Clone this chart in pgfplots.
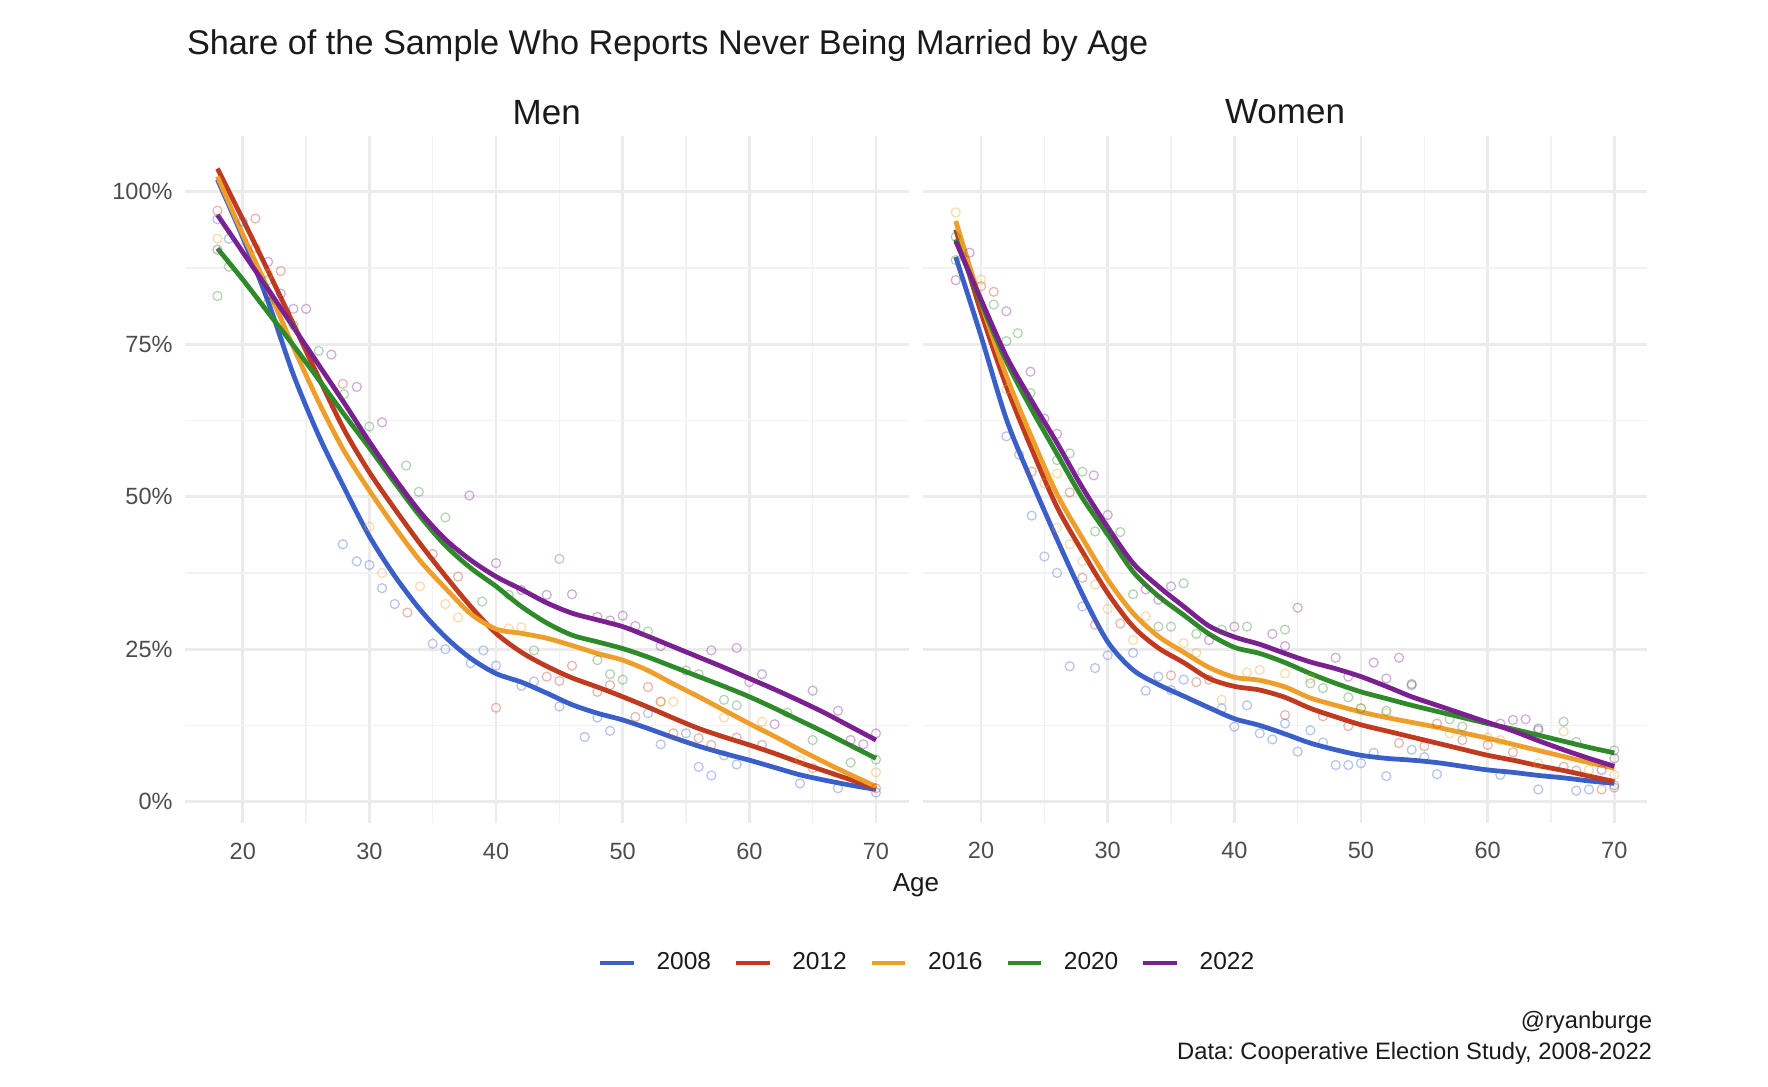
\documentclass[border=0pt]{standalone}
\usepackage{fontspec}
\setmainfont{Liberation Sans}
\usepackage{pgfplots}
\pgfplotsset{compat=1.18}
\frenchspacing
\definecolor{c2008}{HTML}{3A5FC9}
\definecolor{c2012}{HTML}{BF3A1F}
\definecolor{c2016}{HTML}{EE9E2A}
\definecolor{c2020}{HTML}{2F8A2A}
\definecolor{c2022}{HTML}{7B2090}
\definecolor{gridmaj}{HTML}{EBEBEB}
\definecolor{gridmin}{HTML}{F2F2F2}
\definecolor{tickgray}{HTML}{4D4D4D}
\definecolor{txt}{HTML}{1A1A1A}
\pgfplotsset{
  every axis title shift=0pt,
  panel/.style={
    scale only axis, width=289.76pt, height=274.96pt,
    xmin=15.4, xmax=72.6, ymin=-3.5, ymax=109.2,
    xtick={20,30,40,50,60,70}, minor xtick={25,35,45,55,65},
    ytick={0,25,50,75,100}, minor ytick={12.5,37.5,62.5,87.5},
    grid=both,
    major grid style={color=gridmaj, line width=1.08pt},
    minor grid style={color=gridmin, line width=0.55pt},
    axis line style={draw=none},
    major tick length=0pt, minor tick length=0pt,
    tick style={draw=none},
    /pgf/number format/assume math mode=true,
    xticklabel style={anchor=base, yshift=-14.4pt, inner sep=0pt,
      font=\fontsize{9.4pt}{11pt}\selectfont, text=tickgray},
    yticklabel style={anchor=east, xshift=-4.6pt, inner sep=0pt,
      font=\fontsize{9.4pt}{11pt}\selectfont, text=tickgray},
    title style={at={(0.5,1)}, anchor=base, yshift=4.64pt, inner sep=0pt,
      font=\fontsize{14pt}{16pt}\selectfont, text=txt},
  },
  pts/.style={only marks, mark=o, mark size=1.8pt, #1,
    mark options={line width=0.5pt, draw opacity=0.36}, forget plot},
  crv/.style={#1, line width=1.9pt, smooth, tension=0.5, mark=none},
}
\begin{document}
\begin{tikzpicture}
\useasboundingbox (0,0) rectangle (707.2pt,434.4pt);
\fill[white] (0,0) rectangle (707.2pt,434.4pt);

% ---------------- Men ----------------
\begin{axis}[panel, at={(73.8pt,105.2pt)}, anchor=south west,
  title={Men},
  yticklabels={0\%,25\%,50\%,75\%,100\%},
  legend columns=5,
  legend style={at={(1.0236,-0.2037)}, anchor=center, draw=none, fill=none,
    font=\fontsize{9.8pt}{11pt}\selectfont, text=txt,
    /tikz/every odd column/.append style={column sep=8.2pt},
    /tikz/every even column/.append style={column sep=9.0pt},
    nodes={inner sep=0pt}},
  legend image code/.code={\draw[#1, line width=1.9pt] (0pt,0pt) -- (13.4pt,0pt);},
]
\addplot[pts=c2008] coordinates {(18,95.5)(18.9,92.3)(20,95.1)(27.9,42.2)(29,39.4)(30,38.8)(31,35)(32,32.4)(35,25.9)(36,25)(38,22.7)(39,24.8)(40,22.3)(42,19)(43,19.7)(45,15.6)(47,10.6)(48,13.8)(49,11.6)(52,14.5)(53,9.4)(55,11.2)(56,5.7)(57,4.3)(58,7.6)(59,6.1)(64,3)(67,2.2)(70,1.5)};
\addplot[pts=c2012] coordinates {(18,96.9)(21,95.6)(21,90.8)(23,87)(27.9,68.5)(33,31)(35,40.6)(37,36.9)(40,15.4)(44,20.5)(45,19.8)(46,22.3)(48,18)(49,19.1)(51,13.9)(52,18.8)(53,16.4)(54,11.2)(56,10.4)(57,9.3)(59,10.5)(61,9.3)(65,5.5)(70,2.2)};
\addplot[pts=c2016] coordinates {(18,92.3)(22,86.5)(30,45.1)(31,37.5)(34,35.3)(36,32.4)(37,30.2)(41,28.4)(42,28.6)(53,16.4)(54,16.4)(58,13.8)(61,13.1)(64,6.8)(70,4.8)};
\addplot[pts=c2020] coordinates {(18,82.9)(18.9,87.7)(22,85.5)(22,81.8)(24,78.1)(26,73.9)(28,66.8)(30,61.5)(32.9,55.1)(33.9,50.8)(36,46.6)(38.9,32.8)(41,33.9)(43,24.8)(45,39.8)(48,23.2)(49,20.9)(50,20)(52,27.9)(55,21.5)(56,20.9)(58,16.7)(59,15.8)(63,14.6)(65,10.1)(68,6.4)(70,6.9)};
\addplot[pts=c2022] coordinates {(18,90.5)(22,88.5)(22,83.2)(23,83.3)(24,80.8)(25,80.8)(27,73.3)(29,68)(31,62.2)(37.9,50.2)(40,39.1)(42,34.7)(44,33.9)(46,34)(48,30.3)(49,29.7)(50,30.5)(51,28.8)(53,25.5)(57,24.8)(59,25.2)(60,19.6)(61,20.9)(62,12.7)(65,18.2)(67,14.9)(68,10.1)(69,9.4)(70,11.2)};
\addplot[crv=c2008] coordinates {(18,102)(20,92.5)(22,82)(24,70)(26,60)(28,51.5)(30,43.5)(32,37)(34,31.5)(36,27)(38,23.5)(40,21)(42,19.6)(44,17.8)(46,15.9)(48,14.5)(50,13.4)(52,12)(54,10.5)(56,9.1)(58,7.9)(60,6.8)(62,5.6)(64,4.4)(66,3.5)(68,2.7)(70,2.0)};
\addplot[crv=c2012] coordinates {(18,103.8)(20,95.5)(22,87)(24,78.3)(26,69.5)(28,61)(30,54)(32,48)(34,42.3)(36,37)(38,32)(40,27.6)(42,24.5)(44,22.2)(46,20.3)(48,18.8)(50,17.2)(52,15.5)(54,13.7)(56,12)(58,10.6)(60,9.3)(62,7.9)(64,6.4)(66,5)(68,3.6)(70,2.2)};
\addplot[crv=c2016] coordinates {(18,102.5)(20,93)(22,84)(24,74.5)(26,65.5)(28,57.5)(30,51)(32,45)(34,39.5)(36,35)(38,30.8)(40,28.3)(42,27.6)(44,26.8)(46,25.6)(48,24.3)(50,23.2)(52,21.5)(54,19.3)(56,17.2)(58,15)(60,12.8)(62,10.7)(64,8.5)(66,6.4)(68,4.4)(70,2.5)};
\addplot[crv=c2020] coordinates {(18,90.7)(20,85.6)(22,80.2)(24,74.8)(26,69.2)(28,63.5)(30,58)(32,52.3)(34,46.8)(36,42)(38,38.3)(40,35.3)(42,32)(44,29.3)(46,27.3)(48,26.2)(50,25.1)(52,23.7)(54,22.1)(56,20.5)(58,18.9)(60,17.2)(62,15.3)(64,13.3)(66,11.3)(68,9.2)(70,7.1)};
\addplot[crv=c2022] coordinates {(18,96.2)(20,90.1)(22,84)(24,77.8)(26,71.6)(28,65.4)(30,59)(32,53)(34,47.5)(36,43)(38,39.6)(40,36.9)(42,34.8)(44,32.6)(46,30.9)(48,29.8)(50,28.7)(52,27.1)(54,25.4)(56,23.7)(58,22)(60,20.2)(62,18.4)(64,16.5)(66,14.5)(68,12.3)(70,10.1)};
\legend{2008,2012,2016,2020,2022}
\end{axis}

% ---------------- Women ----------------
\begin{axis}[panel, at={(369.12pt,105.2pt)}, anchor=south west,
  title={Women},
  yticklabels={},
]
\addplot[pts=c2008] coordinates {(22,59.9)(23,56.9)(24,46.9)(25,40.2)(26,37.5)(27,22.2)(28,32)(29,21.9)(30,24)(32,24.4)(33,18.2)(34,20.5)(35,18.3)(36,20)(39,15.3)(40,12.3)(41,15.8)(42,11.2)(43,10.2)(44,12.8)(45,8.2)(46,11.7)(47,9.7)(48,6)(49,6)(50,6.3)(51,8)(52,4.2)(54,8.5)(55,7.3)(56,4.5)(61,4.4)(64,2)(67,1.8)(68,2)(70,2.7)};
\addplot[pts=c2012] coordinates {(20,84.5)(21,83.6)(24,54.1)(27,50.7)(28,36.7)(29,29)(31,29.2)(35,20.7)(37,19.6)(38,20)(44,14.2)(47,14)(49,12.4)(53,9.6)(55,9.1)(56,12.8)(58,10.1)(60,9.3)(62,8.1)(66,5.7)(67,5.1)(69,2)(70,2.3)};
\addplot[pts=c2016] coordinates {(18,96.6)(20,85.6)(22,67.6)(25,52.2)(26,53.8)(26,44.9)(27,42.2)(28,39.4)(29,35.6)(30,31.6)(32,26.5)(33,30.4)(36,26)(37,24.4)(39,16.7)(41,21.2)(42,21.6)(44,21)(46,20.2)(50,15.3)(52,14.5)(57,11.2)(60,10.5)(61,10.1)(64,6.3)(66,11.5)(68,5.2)(70,4.4)};
\addplot[pts=c2020] coordinates {(18,92.6)(18,88.8)(21,81.5)(22,75.5)(22.9,76.8)(23.9,67)(26,56)(27,57.1)(28,54.1)(29,44.3)(30,44.3)(31,44.2)(32,34)(34,28.7)(35,28.7)(36,35.8)(37,27.5)(39,28.2)(41,28.7)(44,28.2)(46,19.4)(47,18.6)(49,17.1)(50,15.3)(52,14.9)(54,19.3)(57,13.5)(58,12.3)(64,11.7)(66,13.1)(67,9.8)(70,8.4)};
\addplot[pts=c2022] coordinates {(18,85.5)(19.1,90)(22,80.4)(23.9,70.5)(25,62.8)(26,60.3)(28.9,53.5)(30,47)(33,34.8)(34,33.1)(35,35.3)(38,26.5)(40,28.7)(43,27.5)(44,25.5)(45,31.8)(48,23.6)(49,20.5)(51,22.8)(52,20.2)(53,23.6)(54,19.1)(61,12.8)(62,13.4)(63,13.5)(64,12)(69,5.2)(70,7.1)};
\addplot[crv=c2008] coordinates {(18,89.3)(20,76.3)(22,62.7)(24,52.5)(26,43)(28,34)(30,26.2)(32,21.6)(34,19.2)(36,17.3)(38,15.4)(40,13.6)(42,12.5)(44,11.1)(46,9.6)(48,8.5)(50,7.6)(52,7.1)(54,6.8)(56,6.4)(58,5.8)(60,5.2)(62,4.8)(64,4.3)(66,3.9)(68,3.4)(70,3.0)};
\addplot[crv=c2012] coordinates {(18,93.8)(20,80.2)(22,68.1)(24,57.8)(26,48.3)(28,41)(30,34.2)(32,28.7)(34,25.2)(36,22.8)(38,20.2)(40,18.9)(42,18.3)(44,17.1)(46,15.3)(48,13.9)(50,12.6)(52,11.6)(54,10.6)(56,9.6)(58,8.6)(60,7.6)(62,6.8)(64,5.9)(66,5.1)(68,4.2)(70,3.3)};
\addplot[crv=c2016] coordinates {(18,95.2)(20,81.8)(22,69.8)(24,59.7)(26,50.4)(28,43.2)(30,36.4)(32,30.9)(34,27.1)(36,24.5)(38,22)(40,20.4)(42,19.9)(44,18.8)(46,17)(48,15.8)(50,14.7)(52,13.8)(54,13)(56,12.2)(58,11.3)(60,10.4)(62,9.4)(64,8.4)(66,7.4)(68,6.4)(70,5.5)};
\addplot[crv=c2020] coordinates {(18,92.2)(20,81.8)(22,72.2)(24,64.3)(26,57)(28,49.8)(30,43.8)(32,37.7)(34,33.7)(36,30.6)(38,27.5)(40,25.3)(42,24.3)(44,22.8)(46,21)(48,19.4)(50,18)(52,16.9)(54,15.8)(56,14.8)(58,13.8)(60,12.8)(62,11.9)(64,10.9)(66,9.9)(68,8.9)(70,8)};
\addplot[crv=c2022] coordinates {(18,91.9)(20,82.3)(22,73)(24,65.7)(26,58.8)(28,51.5)(30,45)(32,39.1)(34,35.3)(36,32)(38,28.8)(40,27)(42,25.8)(44,24.3)(46,22.9)(48,21.8)(50,20.5)(52,18.9)(54,17.2)(56,15.8)(58,14.4)(60,13)(62,11.6)(64,10)(66,8.5)(68,7.1)(70,5.8)};
\end{axis}

% ---------------- texts ----------------
\node[anchor=base west, inner sep=0pt, text=txt, font=\fontsize{13.7pt}{16pt}\selectfont]
  at (74.6pt,412.4pt) {Share of the Sample Who Reports Never Being Married by Age};
\node[anchor=base, inner sep=0pt, text=txt, font=\fontsize{10.4pt}{12pt}\selectfont]
  at (366.4pt,78pt) {Age};
\node[anchor=base east, inner sep=0pt, text=txt, font=\fontsize{9.5pt}{11pt}\selectfont]
  at (661pt,23pt) {@ryanburge};
\node[anchor=base east, inner sep=0pt, text=txt, font=\fontsize{9.5pt}{11pt}\selectfont]
  at (661pt,10.7pt) {Data: Cooperative Election Study, 2008-2022};
\end{tikzpicture}
\end{document}
